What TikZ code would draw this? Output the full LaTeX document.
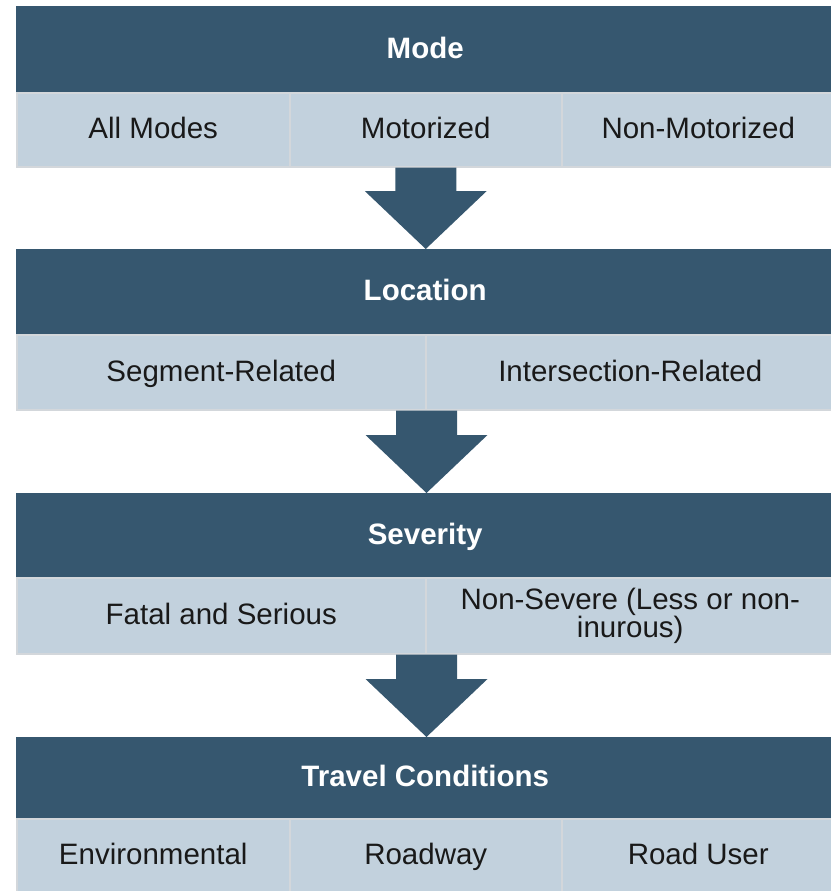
\documentclass[tikz,border=0pt]{standalone}
\usepackage{fontspec}
\setmainfont{Liberation Sans}
\usetikzlibrary{calc}

\definecolor{hdrblue}{HTML}{36576F}
\definecolor{cellblue}{HTML}{C2D1DD}
\definecolor{cellline}{HTML}{D3D7DB}

\tikzset{
  hdr/.style={fill=hdrblue, text=white, inner sep=0pt, anchor=north west,
    font=\fontsize{29.5}{34}\selectfont\bfseries,
    text height=22pt, text depth=4pt,
    minimum width=818pt, minimum height=85pt},
  cell/.style={fill=cellblue, draw=cellline, line width=1.5pt, text=black!90,
    inner sep=0pt, anchor=north west, align=center,
    font=\fontsize{29.5}{23}\selectfont,
    text height=22pt, text depth=4pt, minimum height=74pt},
  third/.style={cell, minimum width=273pt},
  half/.style={cell, minimum width=409pt},
}

\begin{document}
\begin{tikzpicture}[x=1pt, y=-1pt]
      \useasboundingbox (0,0) rectangle (830,891);

      % mode
      \node[hdr, minimum height=86pt] (mode) at (16,6) {Mode};
      \node[third] (allmodes) at (16,92) {All Modes};
      \node[third, minimum width=272pt] (motorized) at (289,92) {Motorized};
      \node[third] (nonmotorized) at (561,92) {Non-Motorized};

      % location
      \node[hdr] (location) at (16,249) {Location};
      \node[half, minimum height=75pt] (segment) at (16,334) {Segment-Related};
      \node[half, minimum height=75pt] (intersection) at (425,334) {Intersection-Related};

      % severity
      \node[hdr, minimum height=84pt] (severity) at (16,493) {Severity};
      \node[half, minimum height=76pt] (fatal) at (16,577) {Fatal and Serious};
      \node[half, minimum height=76pt, text height=, text depth=] (nonsevere)
        at (425,577) {Non-Severe (Less or non-\\inurous)};

      % travel conditions
      \node[hdr, minimum height=81pt] (travel) at (16,737) {Travel Conditions};
      \node[third] (environmental) at (16,818) {Environmental};
      \node[third, minimum width=272pt] (roadway) at (289,818) {Roadway};
      \node[third] (roaduser) at (561,818) {Road User};

      %%%%%%%%%%%%%%%%%%%%%%%%%%%%%%%%%%%%

      \foreach \s/\e in {motorized.south/location.north,
                         segment.south east/severity.north,
                         fatal.south east/travel.north}
      \fill[hdrblue] let \p1=(\s), \p2=(\e) in
        (\x1-30.5pt,\y1) -- (\x1+30.5pt,\y1) -- (\x1+30.5pt,\y2+58pt)
        -- (\x1+61pt,\y2+58pt) -- (\x1,\y2) -- (\x1-61pt,\y2+58pt)
        -- (\x1-30.5pt,\y2+58pt) -- cycle;

\end{tikzpicture}
\end{document}
